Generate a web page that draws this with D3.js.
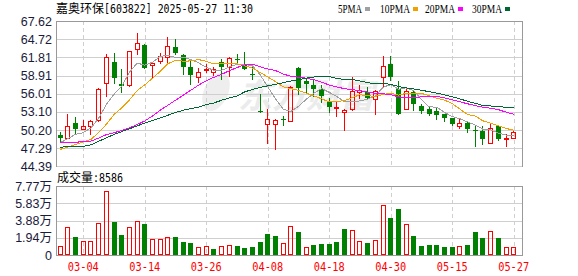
<!DOCTYPE html>
<html><head><meta charset="utf-8">
<script src="https://cdn.jsdelivr.net/npm/d3@7"></script>
<style>html,body{margin:0;padding:0;background:#fff;}svg{display:block;}</style>
</head><body><div id="chart"></div>
<script>
const dates = ['02-27','02-28','03-03','03-04','03-05','03-06','03-07','03-10','03-11','03-12','03-13','03-14','03-17','03-18','03-19','03-20','03-21','03-24','03-25','03-26','03-27','03-28','03-31','04-01','04-02','04-03','04-07','04-08','04-09','04-10','04-11','04-14','04-15','04-16','04-17','04-18','04-21','04-22','04-23','04-24','04-25','04-28','04-29','04-30','05-06','05-07','05-08','05-09','05-12','05-13','05-14','05-15','05-16','05-19','05-20','05-21','05-22','05-23','05-26','05-27'];
const opens  = [49.36,48.99,51.39,50.43,50.80,51.76,57.64,61.10,57.53,57.37,63.09,63.77,60.57,61.16,61.90,63.40,62.20,60.30,58.60,59.80,59.50,61.00,60.20,61.60,60.80,59.15,53.30,51.20,51.20,52.00,51.70,60.10,58.00,57.40,56.70,54.80,53.65,53.10,53.50,56.30,56.30,55.10,58.70,60.70,56.70,53.60,56.30,54.00,53.50,53.20,52.70,52.10,50.80,51.40,50.20,50.00,48.20,50.80,48.80,49.00];
const highs  = [49.88,52.83,52.29,51.87,51.76,56.84,62.33,62.44,59.88,62.90,65.65,63.90,61.10,62.44,65.11,64.70,62.40,61.40,60.04,60.70,60.30,61.60,61.80,62.40,62.70,60.60,56.00,53.60,51.90,52.40,57.20,60.20,58.40,58.30,57.40,55.30,54.80,53.60,58.70,57.40,57.10,56.60,62.10,62.10,58.00,56.90,56.60,54.30,53.90,53.90,52.80,52.20,51.90,51.60,51.00,50.80,51.20,51.00,49.60,50.10];
const lows   = [48.28,48.90,49.63,50.30,49.52,51.60,55.60,57.74,56.29,57.30,62.28,60.04,58.70,60.84,61.10,62.30,59.10,57.50,57.90,59.50,59.00,58.30,58.80,60.70,60.00,58.40,53.10,48.20,47.20,51.00,51.60,56.00,56.30,55.60,54.70,53.10,52.50,50.20,53.40,55.30,55.10,52.80,57.10,58.20,52.80,53.60,53.40,53.00,52.60,51.90,51.60,51.00,50.50,49.90,47.70,48.00,48.20,48.60,47.60,49.00];
const closes = [48.92,50.85,50.43,50.91,51.60,56.68,61.80,58.54,57.26,62.86,64.05,60.10,60.84,62.01,63.61,62.50,60.20,59.00,59.40,60.00,59.95,60.30,61.70,61.40,60.00,59.00,53.10,52.00,51.75,51.85,57.05,56.95,57.50,56.80,55.60,53.90,53.85,53.40,56.45,56.55,55.30,56.40,60.40,58.70,52.80,56.40,54.30,53.20,52.80,52.60,52.10,51.10,51.40,50.30,50.05,48.80,50.50,48.75,48.85,49.90];
const ma5  = [48.18,48.83,49.52,49.78,50.54,52.09,54.28,55.91,57.18,59.43,60.90,60.56,61.02,61.97,62.12,61.81,61.83,61.46,60.94,60.22,59.72,59.74,60.28,60.68,60.68,60.48,59.04,57.10,55.20,53.56,53.16,54.00,55.10,56.08,56.84,56.22,55.54,54.72,54.68,54.86,55.14,55.64,57.04,57.46,56.72,56.94,56.52,55.08,53.90,53.86,53.00,52.36,52.00,51.50,50.99,50.33,50.21,49.71,49.39,49.36];
const ma10 = [47.11,47.48,47.91,48.28,48.71,49.78,51.12,52.67,53.73,54.99,56.50,57.42,58.46,59.57,60.78,61.36,61.20,61.24,61.46,61.17,60.77,60.79,60.87,60.81,60.45,60.10,59.39,58.69,57.94,57.12,56.82,56.52,56.10,55.64,55.20,54.69,54.77,54.91,55.38,55.85,55.68,55.59,55.88,56.07,55.79,56.04,56.08,56.06,55.68,55.29,54.97,54.44,53.54,52.70,52.43,51.67,51.29,50.86,50.45,50.18];
const ma20 = [48.28,48.28,48.28,48.30,48.44,48.92,49.47,49.78,50.10,50.53,51.07,51.65,52.45,53.36,54.16,54.96,55.76,56.57,57.37,58.08,58.63,59.10,59.67,60.19,60.61,60.73,60.29,59.97,59.70,59.15,58.79,58.65,58.49,58.23,57.83,57.40,57.08,56.80,56.66,56.49,56.25,56.06,55.99,55.86,55.50,55.37,55.43,55.49,55.53,55.57,55.33,55.02,54.71,54.39,54.11,53.85,53.68,53.46,53.06,52.73];
const ma30 = [47.48,47.50,47.53,47.60,47.85,48.40,48.95,49.50,49.95,50.40,50.85,51.33,51.71,52.13,52.56,52.99,53.36,53.63,53.84,54.27,54.53,54.96,55.33,55.65,56.29,56.68,57.00,57.26,57.48,57.76,58.03,58.24,58.48,58.68,58.81,58.72,58.45,58.28,58.26,58.05,57.76,57.63,57.62,57.51,57.15,56.94,56.75,56.55,56.33,56.09,55.82,55.52,55.17,54.80,54.47,54.13,54.05,53.94,53.84,53.77];
const volumes = [1.01,3.12,1.99,1.58,1.58,3.57,7.17,3.72,2.25,3.19,3.79,3.49,1.77,1.77,1.99,1.99,1.50,1.37,0.87,1.01,0.68,0.98,1.09,1.01,0.79,0.90,1.50,2.36,2.14,1.31,3.27,2.59,0.87,1.09,1.24,1.24,1.50,2.93,2.82,1.58,1.35,1.69,5.63,4.13,5.18,3.49,2.14,1.01,1.13,1.13,0.90,0.90,1.01,1.13,2.59,1.91,2.70,1.91,0.90,0.8586];
const volUpFirst = true;
const priceTicks = [67.62,64.72,61.81,58.91,56.01,53.10,50.20,47.29,44.39];
const priceTickLabels = ['67.62','64.72','61.81','58.91','56.01','53.10','50.20','47.29','44.39'];
const volTicks = [7.77,5.83,3.88,1.94,0];
const volTickLabels = ['7.77万','5.83万','3.88万','1.94万','0'];
const xLabelDates = ['03-04','03-14','03-26','04-08','04-18','04-30','05-15','05-27'];
const titleName = '嘉奥环保';
const titleRest = '[603822] 2025-05-27 11:30';
const volTitle = '成交量';
const volTitleValue = ':8586';
const maNames = ['5PMA','10PMA','20PMA','30PMA'];
const maColors = ['#a0a0a0','#f0a000','#ff00ff','#006633'];

const W = 578, H = 276;
const L = 56, R = 522;
const pTop = 21, pBot = 166.4;
const vTop = 186, vBot = 255;
const RED = '#ff0000', GREEN = '#008000';

const svg = d3.select('#chart').append('svg').attr('width', W).attr('height', H)
  .style('font-family', '"Liberation Sans", Arial, sans-serif');

const x = d3.scalePoint().domain(dates).range([60.24, 513.7]);
const y = d3.scaleLinear().domain([44.39, 67.62]).range([pBot, pTop]);
const yv = d3.scaleLinear().domain([0, 7.77]).range([vBot, vTop]);
const px = v => Math.round(v) + 0.5;

// watermark
svg.append('text').attr('x', 238).attr('y', 108).text('东方财富')
  .attr('font-family', '"Noto Sans CJK SC"').attr('font-size', 34).attr('font-weight', 'bold')
  .attr('font-style', 'italic').attr('fill', '#ebebeb');
svg.append('ellipse').attr('cx', 216).attr('cy', 92).attr('rx', 12).attr('ry', 20)
  .attr('fill', '#eeeeee').attr('transform', 'rotate(25,216,92)');

// grid
const g = svg.append('g').attr('shape-rendering', 'crispEdges');
priceTicks.forEach((t, i) => {
  g.append('line').attr('x1', L).attr('x2', R).attr('y1', px(y(t))).attr('y2', px(y(t)))
    .attr('stroke', i === 0 ? '#999' : '#cfcfcf');
});
volTicks.forEach((t, i) => {
  if (i === 0 || t === 0) return;
  g.append('line').attr('x1', L).attr('x2', R).attr('y1', px(yv(t))).attr('y2', px(yv(t)))
    .attr('stroke', '#cfcfcf');
});
xLabelDates.forEach(d => {
  const xx = px(x(d));
  g.append('line').attr('x1', xx).attr('x2', xx).attr('y1', pTop).attr('y2', pBot)
    .attr('stroke', '#cfcfcf').attr('stroke-dasharray', '4,3');
  g.append('line').attr('x1', xx).attr('x2', xx).attr('y1', vTop).attr('y2', vBot)
    .attr('stroke', '#cfcfcf').attr('stroke-dasharray', '4,3');
});
g.append('path').attr('d', `M${L + 0.5},${px(pBot)}V${px(pTop)}H${R + 0.5}V${px(pBot)}`)
  .attr('fill', 'none').attr('stroke', '#999');
g.append('rect').attr('x', L + 0.5).attr('y', vTop + 0.5).attr('width', R - L).attr('height', vBot - vTop)
  .attr('fill', 'none').attr('stroke', '#999');

// candles
const cg = svg.append('g').attr('shape-rendering', 'crispEdges');
dates.forEach((d, i) => {
  const cx = x(d);
  const left = Math.round(cx - 2.5);
  const wx = left + 2.5;
  const o = opens[i], c = closes[i], h = highs[i], l = lows[i];
  const yo = Math.round(y(o)), yc = Math.round(y(c)), yh = Math.round(y(h)), yl = Math.round(y(l));
  if (c >= o) {
    const top = yc, bot = yo;
    if (yh < top) cg.append('line').attr('x1', wx).attr('x2', wx).attr('y1', yh).attr('y2', top).attr('stroke', RED);
    if (yl > bot) cg.append('line').attr('x1', wx).attr('x2', wx).attr('y1', bot + 1).attr('y2', yl + 1).attr('stroke', RED);
    if (bot - top >= 2) {
      cg.append('rect').attr('x', left + 0.5).attr('y', top + 0.5).attr('width', 4).attr('height', bot - top)
        .attr('fill', 'none').attr('stroke', RED);
    } else {
      cg.append('rect').attr('x', left).attr('y', top).attr('width', 5).attr('height', Math.max(1, bot - top + 1)).attr('fill', RED);
    }
  } else {
    cg.append('line').attr('x1', wx).attr('x2', wx).attr('y1', yh).attr('y2', yl + 1).attr('stroke', GREEN);
    cg.append('rect').attr('x', left).attr('y', yo).attr('width', 5).attr('height', Math.max(1, yc - yo)).attr('fill', GREEN);
  }
});

// MA lines
const maSeries = [ma5, ma10, ma20, ma30];
const line = d3.line().x((v, i) => x(dates[i])).y(v => y(v));
maSeries.forEach((s, k) => {
  svg.append('path').attr('d', line(s)).attr('fill', 'none').attr('stroke', maColors[k])
    .attr('stroke-width', 1).attr('shape-rendering', 'crispEdges');
});

// volume bars
const vg = svg.append('g').attr('shape-rendering', 'crispEdges');
dates.forEach((d, i) => {
  const left = Math.round(x(d) - 2.5);
  const up = i === 0 ? volUpFirst : closes[i] >= closes[i - 1];
  const top = Math.round(yv(volumes[i]));
  if (up) {
    vg.append('rect').attr('x', left + 0.5).attr('y', top + 0.5).attr('width', 4).attr('height', vBot - top - 1)
      .attr('fill', 'none').attr('stroke', RED);
  } else {
    vg.append('rect').attr('x', left).attr('y', top).attr('width', 5).attr('height', vBot - top).attr('fill', GREEN);
  }
});

// axis labels
priceTicks.forEach((t, i) => {
  svg.append('text').attr('x', 52).attr('y', y(t)).attr('dy', '0.36em').attr('text-anchor', 'end')
    .attr('font-size', 12.5).attr('fill', '#1a1a3a').text(priceTickLabels[i]);
});
volTicks.forEach((t, i) => {
  svg.append('text').attr('x', 52).attr('y', yv(t)).attr('dy', '0.36em').attr('text-anchor', 'end')
    .attr('font-size', 12.5).attr('fill', '#1a1a3a').text(volTickLabels[i])
    .style('font-family', '"Liberation Sans", "Noto Sans CJK SC", sans-serif');
});
xLabelDates.forEach(d => {
  svg.append('text').attr('x', x(d)).attr('y', 271).attr('text-anchor', 'middle')
    .attr('font-size', 12).attr('fill', RED).attr('font-family', '"DejaVu Sans Mono", monospace')
    .attr('textLength', 31).attr('lengthAdjust', 'spacingAndGlyphs').text(d);
});

// title
svg.append('text').attr('x', 56).attr('y', 13).attr('font-size', 12).attr('fill', '#000')
  .attr('font-family', '"Noto Sans CJK SC"').text(titleName);
svg.append('text').attr('x', 104).attr('y', 13).attr('font-size', 12).attr('fill', '#000')
  .attr('font-family', '"DejaVu Sans Mono", monospace')
  .attr('textLength', 149).attr('lengthAdjust', 'spacingAndGlyphs').text(titleRest);

// volume title
svg.append('text').attr('x', 57).attr('y', 182).attr('font-size', 12).attr('fill', '#000')
  .attr('font-family', '"Noto Sans CJK SC"').text(volTitle);
svg.append('text').attr('x', 93).attr('y', 182).attr('font-size', 12).attr('fill', '#000')
  .attr('font-family', '"DejaVu Sans Mono", monospace')
  .attr('textLength', 30).attr('lengthAdjust', 'spacingAndGlyphs').text(volTitleValue);

// legend
const legX = [338, 380, 425, 472];
maNames.forEach((n, k) => {
  const w = n.length * 6;
  svg.append('text').attr('x', legX[k]).attr('y', 13).attr('font-size', 12)
    .attr('font-family', '"Liberation Serif", serif').attr('fill', '#000')
    .attr('textLength', w).attr('lengthAdjust', 'spacingAndGlyphs').text(n);
  svg.append('rect').attr('x', legX[k] + w + 3).attr('y', 7).attr('width', 5).attr('height', 4)
    .attr('fill', maColors[k]).attr('shape-rendering', 'crispEdges');
});
</script></body></html>
